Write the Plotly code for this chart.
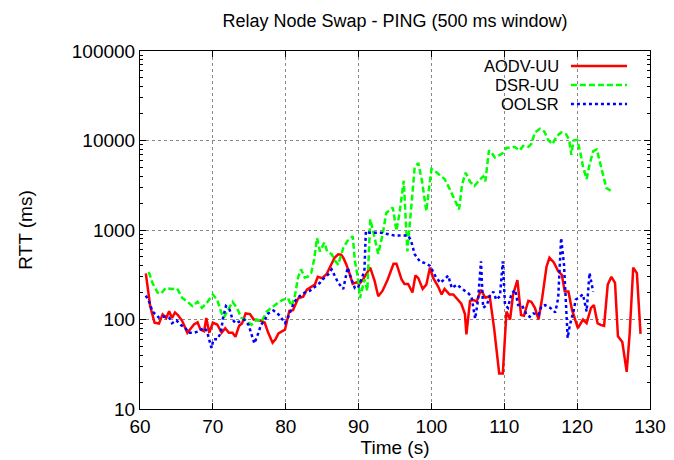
import plotly.graph_objects as go

# ---- data ----
aodv_t = [60.8, 61.4, 62.0, 62.6, 63.1, 63.6, 64.0, 64.4, 64.8, 65.2, 65.8, 66.5, 67.0, 67.4, 67.9,
          68.3, 68.8, 69.1, 69.5, 70.0, 70.6, 71.2, 71.7, 72.2, 72.7, 73.1, 73.6, 74.0, 74.5, 75.1,
          75.6, 76.2, 76.7, 77.1, 77.6, 78.2, 78.6, 79.0, 79.9, 80.5, 81.0, 81.7, 82.4, 82.9, 83.5,
          84.0, 84.4, 85.0, 85.6, 86.0, 86.7, 87.2, 87.6, 87.9, 88.3, 88.8, 89.2, 89.7, 90.1, 90.6,
          91.2, 91.6, 92.2, 92.7, 93.3, 94.0, 94.8, 95.2, 95.9, 96.3, 96.8, 97.4, 97.8, 98.2, 98.8,
          99.3, 99.8, 100.2, 100.9, 101.4, 101.8, 102.5, 103.0, 103.7, 104.1, 104.6, 104.8, 105.3,
          105.8, 106.2, 106.8, 107.4, 108.0, 108.6, 109.3, 109.8, 110.3, 110.8, 111.2, 111.8, 112.3,
          112.7, 113.3, 113.7, 114.2, 114.7, 115.2, 115.8, 116.2, 116.8, 117.4, 117.9, 118.3, 118.8,
          119.3, 120.1, 120.8, 121.3, 121.9, 122.3, 122.8, 123.2, 123.7, 124.2, 124.7, 125.2, 125.6,
          126.2, 126.8, 127.2, 127.7, 128.2, 128.7]
aodv_rtt = [328, 141, 92, 90, 114, 104, 124, 104, 120, 112, 96, 71, 80, 88, 93,
            77, 74, 104, 71, 92, 88, 71, 80, 71, 71, 64, 85, 90, 117, 115,
            100, 98, 96, 93, 71, 55, 60, 70, 77, 125, 127, 172, 180, 215, 232,
            245, 300, 290, 320, 370, 490, 535, 530, 490, 415, 320, 250, 260, 250, 280,
            330, 380, 270, 182, 210, 280, 420, 420, 280, 250, 250, 200, 310, 290, 220,
            245, 380, 295, 235, 190, 220, 190, 190, 162, 150, 115, 68, 162,
            165, 158, 215, 175, 182, 80, 25, 25, 123, 100, 190, 275, 112,
            110, 162, 158, 135, 100, 174, 390, 490, 435, 345, 315, 205, 205,
            128, 80, 100, 91, 135, 145, 91, 87, 85, 245, 300, 257, 65,
            56, 26, 68, 380, 330, 69]

dsr_t = [61.2, 61.7, 62.4, 62.9, 63.5, 64.4, 65.1, 65.8, 66.5, 67.2, 67.9, 68.5, 69.2, 70.0, 70.6,
         71.1, 71.5, 72.0, 72.7, 73.3, 73.9, 74.4, 75.3, 76.0, 76.7, 77.4, 78.3, 79.0, 79.6, 80.3,
         80.8, 81.2, 81.7, 82.1, 82.6, 83.0, 83.5, 83.9, 84.3, 84.7, 85.3, 85.7, 86.3, 86.8, 87.2,
         87.9, 88.5, 89.2, 89.5, 89.9, 90.2, 90.8, 91.2, 91.6, 92.1, 92.7, 93.3, 93.8, 94.7, 95.2,
         95.6, 96.2, 96.7, 97.2, 97.7, 98.2, 98.7, 99.3, 100.0, 100.6, 101.1, 101.8, 102.5, 103.2,
         103.8, 104.2, 104.7, 105.3, 105.9, 106.6, 107.1, 107.4, 107.9, 108.3, 108.7, 109.4, 109.8,
         110.3, 111.0, 111.4, 112.1, 112.6, 113.3, 113.7, 114.2, 114.9, 115.5, 116.0, 116.6, 117.2,
         117.8, 118.5, 118.9, 119.2, 119.5, 120.0, 120.4, 120.8, 121.3, 121.7, 122.2, 122.7, 123.1,
         123.6, 124.0, 124.6]
dsr_rtt = [340, 257, 200, 195, 224, 219, 222, 174, 158, 141, 158, 135, 155, 190, 166,
           123, 105, 123, 158, 135, 105, 100, 87, 100, 95, 123, 141, 155, 166, 174,
           141, 174, 295, 363, 295, 300, 331, 468, 813, 575, 724, 575, 537, 450, 410,
           631, 759, 851, 450, 295, 173, 282, 209, 1320, 890, 540, 890, 1550, 1780, 980,
           1510, 3550, 575, 1780, 5000, 5600, 3550, 1620, 4800, 4470, 4170, 3720, 2880, 2140,
           1700, 3200, 4370, 3470, 3100, 3630, 3980, 3500, 7760, 7240, 6460, 6920, 7240,
           8300, 8300, 8500, 7760, 8700, 8500, 9120, 12300, 13500, 12600, 10200, 9100, 11200,
           12300, 11700, 10200, 6900, 10000, 10200, 7590, 5130, 3720, 5370, 7590, 7940, 5890,
           3980, 2950, 2750]

oolsr_t = [60.8, 61.3, 61.7, 62.1, 62.6, 63.3, 64.0, 64.4, 65.0, 65.6, 66.2, 66.7, 67.4, 68.1, 68.8,
           69.2, 69.8, 70.1, 70.6, 71.1, 71.4, 71.8, 72.3, 72.7, 73.1, 73.7, 74.3, 74.9, 75.4, 75.7,
           76.2, 76.6, 77.1, 77.6, 78.3, 78.7, 79.2, 79.9, 80.3, 80.8, 81.2, 81.9, 82.6, 83.3, 84.0,
           84.7, 85.1, 85.8, 86.3, 86.7, 87.2, 87.9, 88.5, 89.0, 89.5, 89.9, 90.5, 90.8, 91.0, 91.5,
           93.1, 94.9, 96.8, 97.2, 97.7, 98.4, 99.1, 99.8, 100.5, 101.2, 101.8, 102.3, 102.8, 103.5,
           104.1, 105.1, 105.5, 106.0, 106.4, 106.8, 107.1, 107.6, 108.0, 108.5, 108.9, 109.4, 109.8,
           110.1, 110.5, 111.0, 111.5, 111.9, 112.4, 113.1, 113.5, 114.0, 114.7, 115.1, 115.6, 116.3,
           117.0, 117.4, 117.8, 118.2, 118.4, 118.7, 119.0, 119.5, 119.8, 120.4, 120.8, 121.3, 121.7,
           122.2]
oolsr_rtt = [185, 155, 123, 115, 105, 108, 105, 91, 98, 87, 81, 71, 71, 74, 81,
             74, 48, 60, 60, 71, 105, 141, 129, 100, 91, 95, 100, 87, 66, 54,
             69, 87, 98, 117, 126, 120, 110, 91, 105, 132, 158, 182, 200, 209, 234,
             257, 282, 316, 363, 316, 257, 219, 380, 282, 224, 224, 295, 347, 970, 930,
             930, 870, 870, 760, 537, 447, 427, 398, 309, 257, 282, 309, 224, 245,
             224, 195, 180, 102, 166, 447, 135, 145, 182, 204, 166, 182, 447,
             145, 135, 195, 214, 145, 145, 112, 107, 117, 112, 141, 145, 135,
             120, 174, 815, 407, 191, 62, 87, 123, 166, 182, 191, 123, 331,
             204]

series_names = ["AODV-UU", "DSR-UU", "OOLSR"]
series_colors = ["#ff0000", "#00ff00", "#0000ff"]
series_dash = ["solid", "6px,3px", "3px,3px"]

x_ticks = [60, 70, 80, 90, 100, 110, 120, 130]
y_ticks = [10, 100, 1000, 10000, 100000]
y_tick_text = ["10", "100", "1000", "10000", "100000"]

FONT = "Liberation Sans, Arial, Helvetica, sans-serif"

fig = go.Figure()
for name, xs, ys, col, dash in zip(series_names, [aodv_t, dsr_t, oolsr_t],
                                   [aodv_rtt, dsr_rtt, oolsr_rtt],
                                   series_colors, series_dash):
    fig.add_trace(go.Scatter(x=xs, y=ys, mode="lines", name=name,
                             line=dict(color=col, width=2.5, dash=dash)))

# gnuplot-style key: right-aligned labels with the line sample to their right
key_rows = [0.958, 0.905, 0.852]
for name, col, dash, ky in zip(series_names, series_colors, series_dash, key_rows):
    fig.add_annotation(text=name, xref="paper", yref="paper", x=0.8235, y=ky,
                       xanchor="right", yanchor="middle", showarrow=False,
                       borderpad=0,
                       font=dict(family=FONT, size=16.5, color="black"))
    fig.add_shape(type="line", xref="paper", yref="paper", x0=0.845, x1=0.955,
                  y0=ky, y1=ky, line=dict(color=col, width=2.5, dash=dash))

fig.update_layout(
    width=674, height=460,
    margin=dict(l=132, r=32, t=43, b=59, autoexpand=False),
    paper_bgcolor="white", plot_bgcolor="white",
    font=dict(family=FONT, size=19, color="black"),
    title=dict(text="Relay Node Swap - PING (500 ms window)", x=0.5, xref="paper",
               y=1 - 13 / 460, yref="container", yanchor="middle",
               font=dict(family=FONT, size=18, color="black")),
    showlegend=False,
    xaxis=dict(range=[60, 130], tickvals=x_ticks, ticks="inside", ticklen=6,
               tickcolor="black", showline=True, linecolor="black", linewidth=1,
               mirror="allticks", showgrid=True, gridcolor="#888", griddash="dot",
               gridwidth=1, zeroline=False, automargin=False,
               tickfont=dict(size=19),
               title=dict(text="Time (s)", standoff=0, font=dict(size=19))),
    yaxis=dict(type="log", range=[1, 5], tickvals=y_ticks, ticktext=y_tick_text,
               ticks="inside", ticklen=6, tickcolor="black", showline=True,
               linecolor="black", linewidth=1, mirror="allticks", showgrid=True,
               gridcolor="#888", griddash="dot", gridwidth=1, zeroline=False,
               automargin=False, tickfont=dict(size=19),
               minor=dict(ticks="inside", ticklen=3, tickcolor="black", dtick="D1",
                          showgrid=False),
               title=dict(text="RTT (ms)", standoff=34, font=dict(size=19))),
)

fig.write_html("out.html")
